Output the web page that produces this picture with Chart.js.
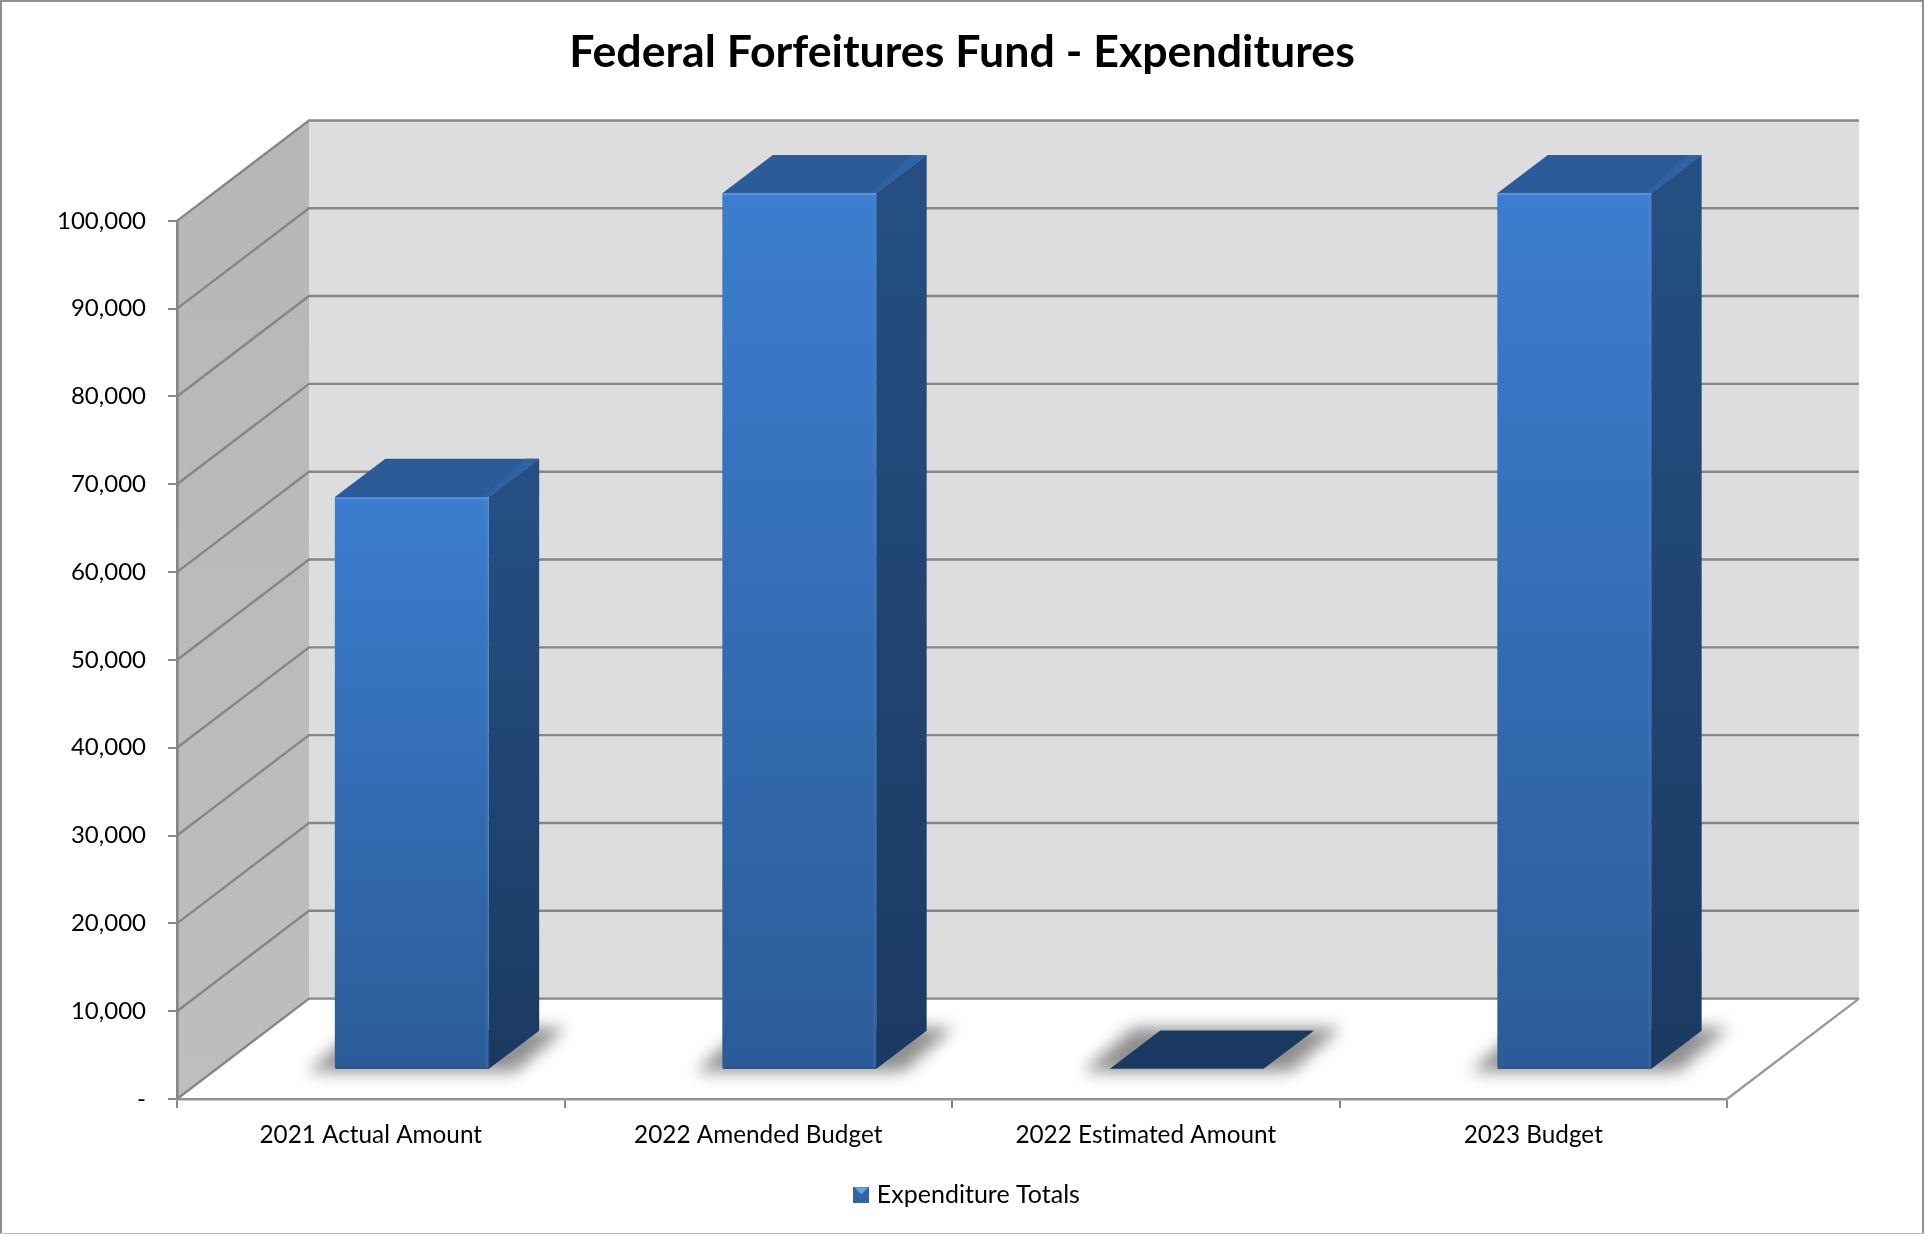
<!DOCTYPE html>
<html>
<head>
<meta charset="utf-8">
<title>Federal Forfeitures Fund - Expenditures</title>
<script src="https://cdn.jsdelivr.net/npm/chart.js@4"></script>
<style>
  html, body { margin: 0; padding: 0; background: #fff; }
  canvas { display: block; }
</style>
</head>
<body>
<canvas id="chart" width="1924" height="1234"></canvas>
<script>
const categories = ['2021 Actual Amount', '2022 Amended Budget', '2022 Estimated Amount', '2023 Budget'];
const expenditures = [65100, 99700, 0, 99700];
const yTickValues = [0, 10000, 20000, 30000, 40000, 50000, 60000, 70000, 80000, 90000, 100000];

// depth of the box the chart sits in, and of the bars inside it
const WALL_DX = 132, WALL_DY = -100.4;
const BAR_SHIFT_X = 41, BAR_SHIFT_Y = -30.2;
const BAR_DX = 50.5, BAR_DY = -38.3;
const LINE_COLOR = '#868686';
const FONT = 'Lato';

function poly(ctx, points, fill) {
  ctx.beginPath();
  points.forEach((p, i) => (i ? ctx.lineTo(p[0], p[1]) : ctx.moveTo(p[0], p[1])));
  ctx.closePath();
  ctx.fillStyle = fill;
  ctx.fill();
}

function line(ctx, points) {
  ctx.beginPath();
  points.forEach((p, i) => (i ? ctx.lineTo(p[0], p[1]) : ctx.moveTo(p[0], p[1])));
  ctx.stroke();
}

// legend swatch: small blue square with the bevelled lighter top
function makeSwatch() {
  const c = document.createElement('canvas');
  c.width = 16;
  c.height = 16;
  const g = c.getContext('2d');
  const grad = g.createLinearGradient(0, 0, 0, 16);
  grad.addColorStop(0, '#3c7dcf');
  grad.addColorStop(1, '#2b5c98');
  g.fillStyle = grad;
  g.fillRect(0, 0, 16, 16);
  poly(g, [[1, 1], [15, 1], [8, 8]], '#6ea3e4');
  poly(g, [[0, 16], [16, 16], [16, 0], [8, 8], [0, 0]], '#2f66a8');
  g.fillStyle = grad;
  g.fillRect(2, 9, 12, 5);
  return c;
}

const boxPlugin = {
  id: 'box3d',
  // the legend sits a little right of the page centre
  afterLayout(chart) {
    chart.legend.left += 7;
    chart.legend.right += 7;
  },
  // side wall, back wall and the grid lines running round them
  beforeDraw(chart) {
    const { ctx, scales: { x, y } } = chart;
    const left = x.left, right = x.right;
    const zero = y.getPixelForValue(0);
    const top = y.getPixelForValue(yTickValues[yTickValues.length - 1]);

    // a tiny letter spacing stops the "ti" ligature in the labels
    ctx.letterSpacing = '0.01px';

    ctx.save();
    poly(ctx, [[left + WALL_DX, top + WALL_DY], [right + WALL_DX, top + WALL_DY], [right + WALL_DX, zero + WALL_DY], [left + WALL_DX, zero + WALL_DY]], '#dddddd');
    const side = ctx.createLinearGradient(0, top + WALL_DY, 0, zero);
    side.addColorStop(0, '#b7b7b7');
    side.addColorStop(1, '#bebebe');
    poly(ctx, [[left, top], [left + WALL_DX, top + WALL_DY], [left + WALL_DX, zero + WALL_DY], [left, zero]], side);

    ctx.strokeStyle = LINE_COLOR;
    ctx.lineWidth = 2.4;
    yTickValues.forEach((v) => {
      const py = y.getPixelForValue(v);
      line(ctx, [[left, py], [left + WALL_DX, py + WALL_DY], [right + WALL_DX, py + WALL_DY]]);
    });
    ctx.strokeStyle = '#9a9a9a';
    line(ctx, [[right, zero], [right + WALL_DX, zero + WALL_DY]]);

    // outer frame of the chart
    ctx.fillStyle = '#8f8f8f';
    ctx.fillRect(0, 0, chart.width, 2);
    ctx.fillRect(0, 0, 2, chart.height);
    ctx.fillRect(chart.width - 2, 0, 2, chart.height);
    ctx.fillStyle = '#bdbdbd';
    ctx.fillRect(0, chart.height - 1, chart.width, 1);
    ctx.restore();
  },
  // floor shadow, side and top of each bar; the front face is the bar element itself
  beforeDatasetDraw(chart, args) {
    const { ctx } = chart;
    const zero = chart.scales.y.getPixelForValue(0);
    ctx.save();
    ctx.translate(BAR_SHIFT_X, BAR_SHIFT_Y);
    args.meta.data.forEach((bar, i) => {
      const l = bar.x - bar.width / 2, r = bar.x + bar.width / 2, t = bar.y;
      ctx.save();
      ctx.filter = 'blur(8px)';
      poly(ctx, [[l - 27, zero + 3], [r + 27, zero + 3], [r + BAR_DX + 27, zero + BAR_DY - 3], [l + BAR_DX - 27, zero + BAR_DY - 3]], 'rgba(0,0,0,0.44)');
      ctx.restore();
      poly(ctx, [[l, zero], [r, zero], [r + BAR_DX, zero + BAR_DY], [l + BAR_DX, zero + BAR_DY]], '#1b3a62');
      if (expenditures[i] === 0) return;

      const sideGrad = ctx.createLinearGradient(0, t, 0, zero);
      sideGrad.addColorStop(0, '#254f82');
      sideGrad.addColorStop(1, '#1b3a62');
      poly(ctx, [[r, t], [r + BAR_DX, t + BAR_DY], [r + BAR_DX, zero + BAR_DY], [r, zero]], sideGrad);
      poly(ctx, [[l, t], [r, t], [r + BAR_DX, t + BAR_DY], [l + BAR_DX, t + BAR_DY]], '#2b5c99');
      // lighter bevel where the top meets the side
      poly(ctx, [[r - 6, t], [r, t], [r + BAR_DX, t + BAR_DY], [r + BAR_DX - 14, t + BAR_DY]], '#2d62a3');
    });
  },
  afterDatasetDraw(chart, args) {
    const { ctx } = chart;
    args.meta.data.forEach((bar, i) => {
      if (expenditures[i] === 0) return;
      const l = bar.x - bar.width / 2, r = bar.x + bar.width / 2;
      ctx.fillStyle = 'rgba(120,175,245,0.35)';
      ctx.fillRect(l, bar.y, bar.width, 2);
      ctx.fillStyle = 'rgba(120,175,245,0.10)';
      ctx.fillRect(r - 3, bar.y, 3, bar.base - bar.y);
    });
    ctx.restore();
  }
};

new Chart(document.getElementById('chart'), {
  type: 'bar',
  data: {
    labels: categories,
    datasets: [
      {
        label: 'Expenditure Totals',
        data: expenditures,
        barPercentage: 0.397,
        categoryPercentage: 1,
        backgroundColor(context) {
          const y = context.chart.scales.y;
          const from = y ? y.getPixelForValue(context.raw) : NaN;
          const to = y ? y.getPixelForValue(0) : NaN;
          // the legend asks for this before the scales have been laid out
          if (!isFinite(from) || !isFinite(to)) return '#3c7dcf';
          const grad = context.chart.ctx.createLinearGradient(0, from, 0, to);
          grad.addColorStop(0, '#3c7dcf');
          grad.addColorStop(1, '#2b5c98');
          return grad;
        },
      },
    ],
  },
  options: {
    responsive: false,
    animation: false,
    layout: { padding: { bottom: 17 } },
    plugins: {
      title: {
        display: true,
        text: 'Federal Forfeitures Fund - Expenditures',
        color: '#000',
        font: { family: FONT, size: 44.7, weight: 'bold' },
        padding: { top: 26, bottom: 141.2 },
      },
      legend: {
        position: 'bottom',
        labels: {
          usePointStyle: true,
          pointStyle: makeSwatch(),
          boxWidth: 6,
          color: '#000',
          padding: 10,
          font: { family: FONT, size: 25 },
        },
      },
      tooltip: { enabled: false },
    },
    scales: {
      x: {
        grid: { drawOnChartArea: false, color: LINE_COLOR, lineWidth: 2, tickLength: 9 },
        border: { color: '#959595', width: 2.6 },
        ticks: { color: '#000', maxRotation: 0, padding: 12.5, font: { family: FONT, size: 24.3 } },
        afterFit(scale) { scale.height = 73; },
      },
      y: {
        min: 0,
        max: 100000,
        grid: { drawOnChartArea: false, color: LINE_COLOR, lineWidth: 2, tickLength: 9 },
        border: { color: LINE_COLOR, width: 2.6 },
        ticks: {
          color: '#000',
          padding: 22,
          font: { family: FONT, size: 24 },
          callback(value) { return value === 0 ? '-' : value.toLocaleString('en-US'); },
        },
        afterBuildTicks(scale) { scale.ticks = yTickValues.map((value) => ({ value })); },
        afterFit(scale) { scale.width = 177; },
      },
      // keeps the room on the right for the depth of the box
      spacer: {
        position: 'right',
        display: true,
        grid: { display: false },
        border: { display: false },
        ticks: { display: false },
        afterFit(scale) { scale.width = 197; },
      },
    },
  },
  plugins: [boxPlugin],
});
</script>
</body>
</html>
